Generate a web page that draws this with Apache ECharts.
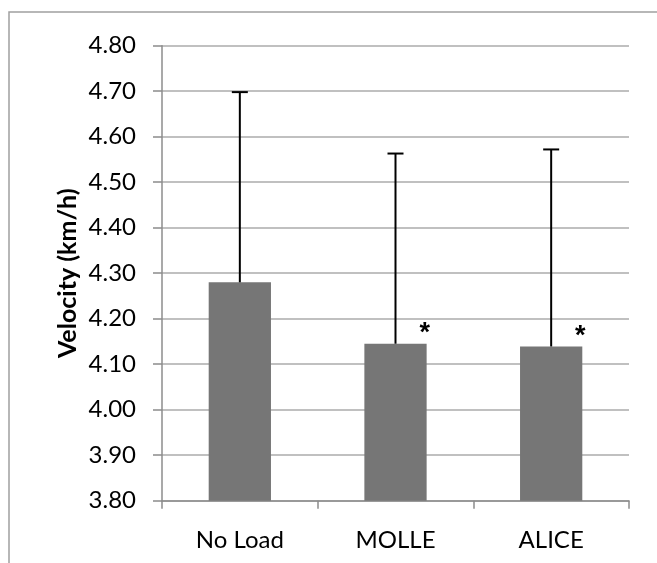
<!DOCTYPE html>
<html>
<head>
<meta charset="utf-8">
<style>
  html, body { margin: 0; padding: 0; background: #fff; }
  #chart { width: 657px; height: 563px; }
</style>
<script src="https://cdn.jsdelivr.net/npm/echarts@6/dist/echarts.min.js"></script>
</head>
<body>
<div id="chart"></div>
<script>
// Walking velocity by load condition (mean with upward SD bar)
const categories = ['No Load', 'MOLLE', 'ALICE'];
const meanVelocity = [4.28, 4.145, 4.139];
const sdVelocity = [0.418, 0.418, 0.433];
const significance = ['', '*', '*'];
const yTicks = { min: 3.8, max: 4.8, step: 0.1 };

const FONT = 'Lato, "Open Sans", sans-serif';
const chart = echarts.init(document.getElementById('chart'), null, { renderer: 'canvas' });

const barData = meanVelocity.map((v, i) => ({
  value: v,
  label: {
    show: significance[i] !== '',
    formatter: significance[i],
    position: ['100%', -10],
    offset: [-2, 0],
    align: 'center',
    verticalAlign: 'middle',
    fontFamily: '"Liberation Sans", Arial, sans-serif',
    fontSize: 27,
    fontWeight: 'bold',
    color: '#000'
  }
}));

const errData = meanVelocity.map((v, i) => [i, v, sdVelocity[i]]);

chart.setOption({
  animation: false,
  backgroundColor: '#fff',
  graphic: [{
    type: 'rect',
    shape: { x: 9, y: 12, width: 700, height: 600 },
    style: { fill: 'none', stroke: '#a0a0a0', lineWidth: 1.5 },
    silent: true
  }],
  grid: { left: 162, right: 28, top: 45.7, bottom: 62.3 },
  xAxis: {
    type: 'category',
    data: categories,
    axisLine: { lineStyle: { color: '#8c8c8c', width: 1.5 } },
    axisTick: { show: true, length: 8, alignWithLabel: false, lineStyle: { color: '#8c8c8c', width: 1.5 } },
    axisLabel: { fontFamily: FONT, fontSize: 24, color: '#000', margin: 28 },
    splitLine: { show: false }
  },
  yAxis: {
    type: 'value',
    min: yTicks.min,
    max: yTicks.max,
    interval: yTicks.step,
    name: 'Velocity (km/h)',
    nameLocation: 'middle',
    nameGap: 82,
    nameMoveOverlap: false,
    nameRotate: 90,
    nameTextStyle: { fontFamily: FONT, fontSize: 25, fontWeight: 'bold', color: '#000' },
    axisLine: { show: true, lineStyle: { color: '#8c8c8c', width: 1.5 } },
    axisTick: { show: true, length: 9, lineStyle: { color: '#8c8c8c', width: 1.5 } },
    axisLabel: {
      fontFamily: FONT, fontSize: 24, color: '#000', margin: 26,
      formatter: v => v.toFixed(2)
    },
    splitLine: { lineStyle: { color: '#ababab', width: 1.5 } }
  },
  series: [
    {
      type: 'bar',
      data: barData,
      barWidth: '40%',
      itemStyle: { color: '#767676' }
    },
    {
      type: 'custom',
      data: errData,
      z: 5,
      renderItem: (params, api) => {
        const x = api.value(0);
        const mean = api.value(1);
        const sd = api.value(2);
        const base = api.coord([x, mean]);
        const top = api.coord([x, mean + sd]);
        const half = 8;
        const style = { stroke: '#000', lineWidth: 2 };
        return {
          type: 'group',
          children: [
            { type: 'line', shape: { x1: base[0], y1: base[1], x2: top[0], y2: top[1] }, style },
            { type: 'line', shape: { x1: top[0] - half, y1: top[1], x2: top[0] + half, y2: top[1] }, style }
          ]
        };
      }
    }
  ]
});
</script>
</body>
</html>
